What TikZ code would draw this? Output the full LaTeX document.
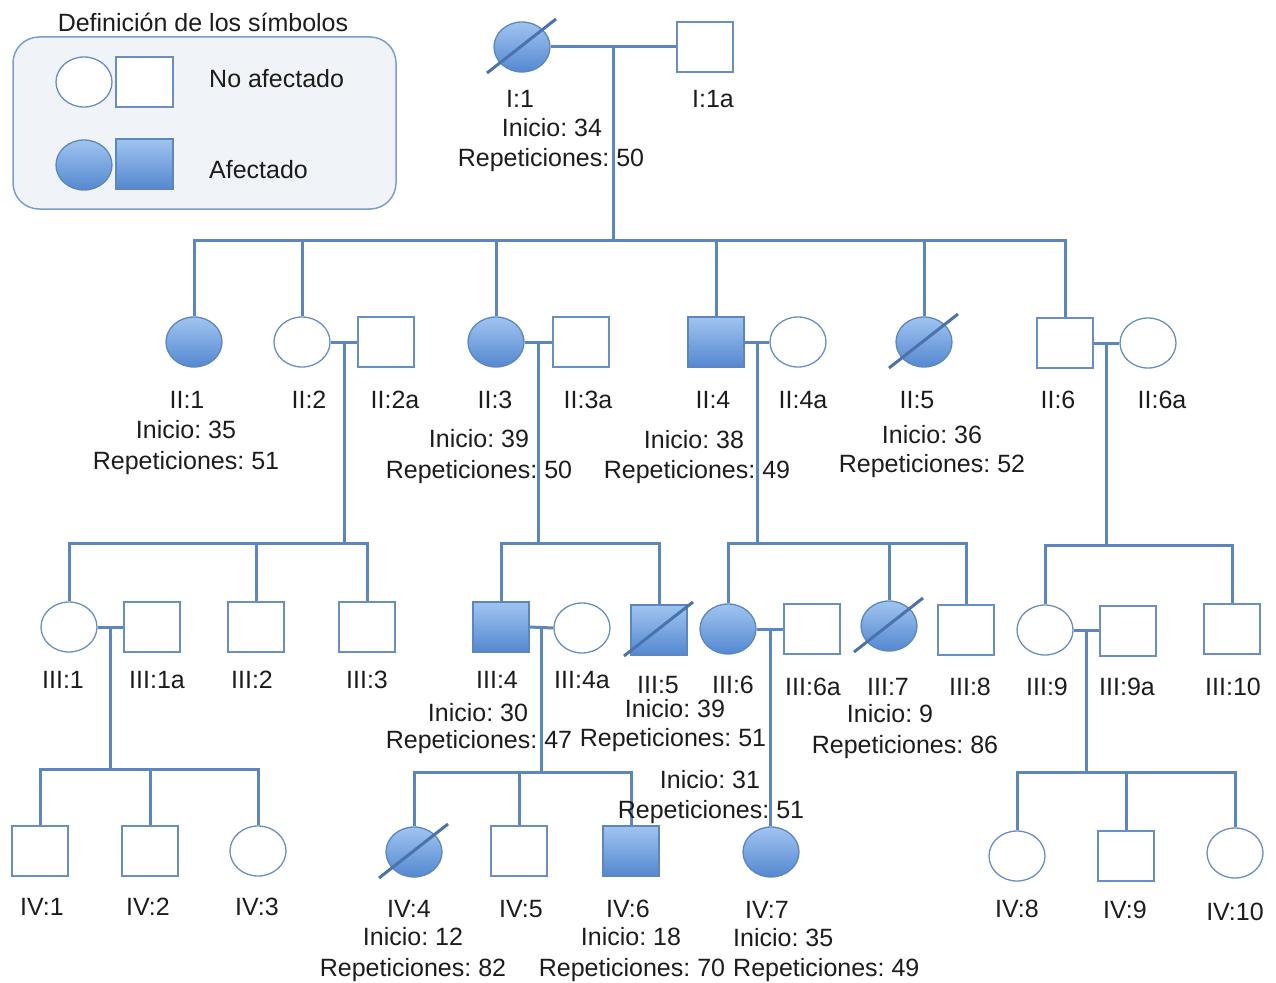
\documentclass[tikz,border=0pt]{standalone}
\usepackage{fontspec}
\setmainfont{Liberation Sans}
\usetikzlibrary{shapes.geometric,calc}
\frenchspacing

\definecolor{linkblue}{RGB}{92,135,190}
\definecolor{edgeblue}{RGB}{104,142,196}
\definecolor{filltop}{RGB}{160,196,240}
\definecolor{fillbot}{RGB}{84,136,208}
\definecolor{legendbg}{RGB}{240,243,247}
\definecolor{legendedge}{RGB}{124,158,206}
\definecolor{slashblue}{RGB}{74,114,172}
\definecolor{inkgrey}{RGB}{28,28,28}

\tikzset{
  person/.style={draw=edgeblue, line width=1.3pt, fill=white, inner sep=0pt,
                 minimum width=56pt, minimum height=50pt},
  female/.style={person, ellipse},
  male/.style={person, rectangle},
  affected/.style={top color=filltop, bottom color=fillbot, draw=linkblue},
  link/.style={draw=linkblue, line width=3pt},
  slash/.style={draw=slashblue, line width=3pt},
  lbl/.style={text=inkgrey, font=\fontsize{25}{30}\selectfont, inner sep=0pt, anchor=base},
  lblw/.style={lbl, anchor=base west},
  legendbox/.style={draw=legendedge, line width=1.5pt, fill=legendbg, rounded corners=26pt,
                    minimum width=383pt, minimum height=172pt, inner sep=0pt},
}
\newcommand\deadmark[1]{\draw[slash] ([shift={(-35,26)}]#1.center) -- ([shift={(34,-28)}]#1.center);}

\begin{document}
\begin{tikzpicture}[x=1pt,y=-1pt]
\useasboundingbox (0,0) rectangle (1276,982);

% ---------- legend ----------
\node[lbl] (legtitle) at (203,32) {Definición de los símbolos};
\node[legendbox] (legend) at (204.5,123) {};
\node[female] (legF) at (84,82) {};
\node[male, minimum width=57pt] (legM) at (144.5,82) {};
\node[female, affected] (legFa) at (84,165) {};
\node[male, affected, minimum width=57pt] (legMa) at (144.5,164) {};
\node[lblw] (legno) at (209,88) {No afectado};
\node[lblw] (legyes) at (209,178) {Afectado};

% ---------- generation I ----------
\node[female, affected] (I1) at (522,47) {};
\node[male] (I1a) at (705,47) {};

% ---------- generation II ----------
\node[female, affected] (II1) at (194,342) {};
\node[female] (II2) at (302,342) {};
\node[male] (II2a) at (386,342) {};
\node[female, affected] (II3) at (496,342) {};
\node[male] (II3a) at (581,342) {};
\node[male, affected] (II4) at (716,342) {};
\node[female] (II4a) at (798,342) {};
\node[female, affected] (II5) at (924,342) {};
\node[male] (II6) at (1065,343) {};
\node[female] (II6a) at (1148,343) {};

% ---------- generation III ----------
\node[female] (III1) at (69,627) {};
\node[male] (III1a) at (152,627) {};
\node[male] (III2) at (256,627) {};
\node[male] (III3) at (367,627) {};
\node[male, affected] (III4) at (501,627) {};
\node[female] (III4a) at (582,628) {};
\node[male, affected] (III5) at (659,630) {};
\node[female, affected] (III6) at (728,629) {};
\node[male] (III6a) at (812,629) {};
\node[female, affected] (III7) at (889,626) {};
\node[male] (III8) at (966,630) {};
\node[female] (III9) at (1045,630) {};
\node[male] (III9a) at (1128,631) {};
\node[male] (III10) at (1232,629) {};

% ---------- generation IV ----------
\node[male] (IV1) at (40,851) {};
\node[male] (IV2) at (150,851) {};
\node[female] (IV3) at (258,851) {};
\node[female, affected] (IV4) at (414,852) {};
\node[male] (IV5) at (519,851) {};
\node[male, affected] (IV6) at (631,851) {};
\node[female, affected] (IV7) at (771,852) {};
\node[female] (IV8) at (1017,856) {};
\node[male] (IV9) at (1126,856) {};
\node[female] (IV10) at (1235,853) {};

% ---------- deceased marks ----------
\deadmark{I1}
\deadmark{II5}
\deadmark{III5}
\deadmark{III7}
\deadmark{IV4}

% ---------- levels of the sibling bars ----------
\coordinate (lev1) at (0,240);
\coordinate (lev2) at (0,543);
\coordinate (lev2b) at (0,545);
\coordinate (lev3) at (0,769);
\coordinate (lev3b) at (0,772);

% ---------- marriage lines and their midpoints ----------
\draw[link] (I1.east) -- (I1a.west);
\draw[link] (II2.east) -- (II2a.west);
\draw[link] (II3.east) -- (II3a.west);
\draw[link] (II4.east) -- (II4a.west);
\draw[link] (II6.east) -- (II6a.west);
\draw[link] (III1.east) -- (III1a.west);
\draw[link] (III4.east) -- (III4a.west);
\draw[link] (III6.east) -- (III6a.west);
\draw[link] (III9.east) -- (III9a.west |- III9.east);

\coordinate (m1) at ($(I1.east)!.5!(I1a.west)$);
\coordinate (m2) at ($(II2.east)!.5!(II2a.west)$);
\coordinate (m3) at ($(II3.east)!.5!(II3a.west)$);
\coordinate (m4) at ($(II4.east)!.5!(II4a.west)$);
\coordinate (m6) at ($(II6.east)!.5!(II6a.west)$);
\coordinate (m31) at ($(III1.east)!.5!(III1a.west)$);
\coordinate (m34) at ($(III4.east)!.5!(III4a.west)$);
\coordinate (m36) at ($(III6.east)!.5!(III6a.west)$);
\coordinate (m39) at ($(III9.east)!.5!(III9a.west |- III9.east)$);

\coordinate (k1) at (m1 |- lev1);
\coordinate (k2) at (m2 |- lev2);
\coordinate (k3) at (m3 |- lev2);
\coordinate (k4) at (m4 |- lev2);
\coordinate (k6) at (m6 |- lev2b);
\coordinate (k31) at (m31 |- lev3);
\coordinate (k34) at (m34 |- lev3b);
\coordinate (k39) at (m39 |- lev3b);

% ---------- descent lines ----------
\draw[link] (m1) -- (k1);
\draw[link] (II1.north) |- (k1) -| (II6.north);
\foreach \n in {II2,II3,II4,II5} \draw[link] (\n.north) -- (\n.north |- k1);

\draw[link] (m2) -- (k2);
\draw[link] (III1.north) |- (k2) -| (III3.north);
\draw[link] (III2.north) -- (III2.north |- k2);

\draw[link] (m3) -- (k3);
\draw[link] (III4.north) |- (k3) -| (III5.north);

\draw[link] (m4) -- (k4);
\draw[link] (III6.north) |- (k4) -| (III8.north);
\draw[link] (III7.north) -- (III7.north |- k4);

\draw[link] (m6) -- (k6);
\draw[link] (III9.north) |- (k6) -| (III10.north);

\draw[link] (m31) -- (k31);
\draw[link] (IV1.north) |- (k31) -| (IV3.north);
\draw[link] (IV2.north) -- (IV2.north |- k31);

\draw[link] (m34) -- (k34);
\draw[link] (IV4.north) |- (k34) -| (IV6.north);
\draw[link] (IV5.north) -- (IV5.north |- k34);

\draw[link] (m36) -- (m36 |- IV7.north);

\draw[link] (m39) -- (k39);
\draw[link] (IV8.north) |- (k39) -| (IV10.north);
\draw[link] (IV9.north) -- (IV9.north |- k39);

% ---------- labels, generation I ----------
\node[lbl] (tI1) at (520,107) {I:1};
\node[lbl] (tI1a) at (713,107) {I:1a};
\node[lbl] (tI1on) at (552,136) {Inicio: 34};
\node[lbl] (tI1rep) at (551,166) {Repeticiones: 50};

% ---------- labels, generation II ----------
\node[lbl] (tII1) at (187,408) {II:1};
\node[lbl] (tII2) at (309,408) {II:2};
\node[lbl] (tII2a) at (395,408) {II:2a};
\node[lbl] (tII3) at (495,408) {II:3};
\node[lbl] (tII3a) at (588,408) {II:3a};
\node[lbl] (tII4) at (713,408) {II:4};
\node[lbl] (tII4a) at (803,408) {II:4a};
\node[lbl] (tII5) at (917,408) {II:5};
\node[lbl] (tII6) at (1058,408) {II:6};
\node[lbl] (tII6a) at (1162,408) {II:6a};
\node[lbl] (tII1on) at (186,438) {Inicio: 35};
\node[lbl] (tII1rep) at (186,469) {Repeticiones: 51};
\node[lbl] (tII3on) at (479,447) {Inicio: 39};
\node[lbl] (tII3rep) at (479,478) {Repeticiones: 50};
\node[lbl] (tII4on) at (694,448) {Inicio: 38};
\node[lbl] (tII4rep) at (697,478) {Repeticiones: 49};
\node[lbl] (tII5on) at (932,443) {Inicio: 36};
\node[lbl] (tII5rep) at (932,472) {Repeticiones: 52};

% ---------- labels, generation III ----------
\node[lbl] (tIII1) at (63,688) {III:1};
\node[lbl] (tIII1a) at (157,688) {III:1a};
\node[lbl] (tIII2) at (252,688) {III:2};
\node[lbl] (tIII3) at (367,688) {III:3};
\node[lbl] (tIII4) at (497,688) {III:4};
\node[lbl] (tIII4a) at (582,688) {III:4a};
\node[lbl] (tIII5) at (658,693) {III:5};
\node[lbl] (tIII6) at (733,693) {III:6};
\node[lbl] (tIII6a) at (813,695) {III:6a};
\node[lbl] (tIII7) at (888,695) {III:7};
\node[lbl] (tIII8) at (970,695) {III:8};
\node[lbl] (tIII9) at (1047,695) {III:9};
\node[lbl] (tIII9a) at (1127,695) {III:9a};
\node[lbl] (tIII10) at (1233,695) {III:10};
\node[lbl] (tIII4on) at (478,721) {Inicio: 30};
\node[lbl] (tIII4rep) at (479,748) {Repeticiones: 47};
\node[lbl] (tIII5on) at (675,717) {Inicio: 39};
\node[lbl] (tIII5rep) at (673,746) {Repeticiones: 51};
\node[lbl] (tIII7on) at (890,722) {Inicio: 9};
\node[lbl] (tIII7rep) at (905,753) {Repeticiones: 86};
\node[lbl] (tIII6on) at (710,788) {Inicio: 31};
\node[lbl] (tIII6rep) at (711,818) {Repeticiones: 51};

% ---------- labels, generation IV ----------
\node[lbl] (tIV1) at (42,915) {IV:1};
\node[lbl] (tIV2) at (148,915) {IV:2};
\node[lbl] (tIV3) at (257,915) {IV:3};
\node[lbl] (tIV4) at (409,917) {IV:4};
\node[lbl] (tIV5) at (521,917) {IV:5};
\node[lbl] (tIV6) at (628,917) {IV:6};
\node[lbl] (tIV7) at (767,918) {IV:7};
\node[lbl] (tIV8) at (1017,917) {IV:8};
\node[lbl] (tIV9) at (1125,918) {IV:9};
\node[lbl] (tIV10) at (1235,920) {IV:10};
\node[lbl] (tIV4on) at (413,945) {Inicio: 12};
\node[lbl] (tIV4rep) at (413,976) {Repeticiones: 82};
\node[lbl] (tIV6on) at (631,945) {Inicio: 18};
\node[lbl] (tIV6rep) at (632,976) {Repeticiones: 70};
\node[lblw] (tIV7on) at (733,946) {Inicio: 35};
\node[lblw] (tIV7rep) at (733,976) {Repeticiones: 49};

\end{tikzpicture}
\end{document}
